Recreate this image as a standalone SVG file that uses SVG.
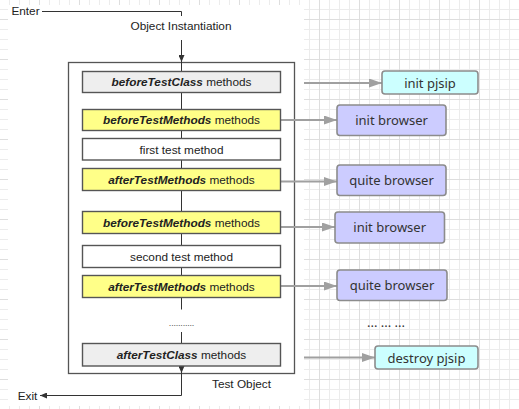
<svg xmlns="http://www.w3.org/2000/svg" width="519" height="409" viewBox="0 0 519 409">
<defs>
<pattern id="grid" x="0" y="0" width="40" height="40" patternUnits="userSpaceOnUse">
<path d="M9.5,0V40M19.5,0V40M29.5,0V40M0,9.5H40M0,29.5H40M0,39.5H40" stroke="#ececec" stroke-width="1" fill="none"/>
<path d="M39.5,0V40M0,19.5H40" stroke="#dedede" stroke-width="1" fill="none"/>
</pattern>
<marker id="ga" markerWidth="13" markerHeight="9" refX="13" refY="4.5" orient="auto" markerUnits="userSpaceOnUse">
<path d="M0,0L13,4.5L0,9z" fill="#a0a0a0"/>
</marker>
<marker id="da" markerWidth="7" markerHeight="6" refX="7" refY="3" orient="auto" markerUnits="userSpaceOnUse">
<path d="M0,0L7,3L0,6z" fill="#333"/>
</marker>
<style>
.box{stroke:#555;stroke-width:1.4}
.gray{fill:#eeeeee}
.yel{fill:#ffff88}
.wht{fill:#ffffff}
.t{font-family:"Liberation Sans",Arial,sans-serif;font-size:11.8px;fill:#222;text-anchor:middle}
.b{font-weight:bold;font-style:italic}
.rb{stroke:#8c8c8c;stroke-width:1.6}
.cy{fill:#ccffff}
.pu{fill:#ccccff}
.rt{font-family:"Noto Sans",sans-serif;font-size:13px;fill:#333;text-anchor:middle}
.gl{stroke:#a0a0a0;stroke-width:2;fill:none}
.dl{stroke:#333;stroke-width:1;fill:none}
</style>
</defs>
<rect width="519" height="409" fill="#ffffff"/>
<rect width="519" height="409" fill="url(#grid)"/>
<rect x="8" y="5" width="296" height="401" fill="#ffffff"/>

<g id="container">
<rect x="68.5" y="62.5" width="226" height="311" fill="none" stroke="#555" stroke-width="1.3"/>
<text class="t" x="241.5" y="388">Test Object</text>
</g>

<g id="connectors">
<path class="dl" d="M42,11.5H181.5V16"/>
<path class="dl" d="M181.5,40V62" marker-end="url(#da)"/>
<path class="dl" d="M181.5,62V71.5M181.5,92.5V109.5M181.5,130.5V138.5M181.5,160V168.5M181.5,190.5V211.5M181.5,233.5V245.5M181.5,267.5V275.5M181.5,297.5V309.5M181.5,332V343.5"/>
<path class="dl" d="M181.5,366V373" marker-end="url(#da)"/>
<path class="dl" d="M181.5,373V395.5H40" marker-end="url(#da)"/>
<path class="gl" d="M304,83H382" marker-end="url(#ga)"/>
<path class="gl" d="M280.5,120H337" marker-end="url(#ga)"/>
<path class="gl" d="M280.5,181.5H337" marker-end="url(#ga)"/>
<path class="gl" d="M280.5,227H335" marker-end="url(#ga)"/>
<path class="gl" d="M280.5,286H337" marker-end="url(#ga)"/>
<path class="gl" d="M304,357.5H375" marker-end="url(#ga)"/>
</g>

<g id="enter"><text class="t" x="25.5" y="15">Enter</text></g>
<g id="instantiation"><text class="t" x="181" y="30">Object Instantiation</text></g>
<g id="exit"><text class="t" x="27.5" y="399.5">Exit</text></g>

<g id="beforeTestClass">
<rect class="box gray" x="82.5" y="71.5" width="198" height="21"/>
<text class="t" x="181.5" y="86.2"><tspan class="b">beforeTestClass</tspan> methods</text>
</g>
<g id="beforeTestMethods1">
<rect class="box yel" x="82.5" y="109.5" width="198" height="21"/>
<text class="t" x="181.5" y="124.2"><tspan class="b">beforeTestMethods</tspan> methods</text>
</g>
<g id="firstTest">
<rect class="box wht" x="82.5" y="138.5" width="198" height="21.5"/>
<text class="t" x="181.5" y="153.5">first test method</text>
</g>
<g id="afterTestMethods1">
<rect class="box yel" x="82.5" y="168.5" width="198" height="22"/>
<text class="t" x="181.5" y="183.7"><tspan class="b">afterTestMethods</tspan> methods</text>
</g>
<g id="beforeTestMethods2">
<rect class="box yel" x="82.5" y="211.5" width="198" height="22"/>
<text class="t" x="181.5" y="226.7"><tspan class="b">beforeTestMethods</tspan> methods</text>
</g>
<g id="secondTest">
<rect class="box wht" x="82.5" y="245.5" width="198" height="22"/>
<text class="t" x="181.5" y="260.7">second test method</text>
</g>
<g id="afterTestMethods2">
<rect class="box yel" x="82.5" y="275.5" width="198" height="22"/>
<text class="t" x="181.5" y="290.7"><tspan class="b">afterTestMethods</tspan> methods</text>
</g>
<g id="dots1"><text x="181.5" y="326" font-family="Liberation Sans, sans-serif" font-size="9" fill="#555" text-anchor="middle" letter-spacing="-0.2">...........</text></g>
<g id="afterTestClass">
<rect class="box gray" x="82.5" y="343.5" width="198" height="22.5"/>
<text class="t" x="181.5" y="359"><tspan class="b">afterTestClass</tspan> methods</text>
</g>

<g id="initPjsip">
<rect class="rb cy" x="382" y="71" width="96" height="23" rx="3"/>
<text class="rt" x="430" y="87.5">init pjsip</text>
</g>
<g id="initBrowser1">
<rect class="rb pu" x="337" y="105" width="109" height="30.5" rx="3"/>
<text class="rt" x="391.5" y="125">init browser</text>
</g>
<g id="quiteBrowser1">
<rect class="rb pu" x="337" y="165" width="109" height="30.5" rx="3"/>
<text class="rt" x="391.5" y="185">quite browser</text>
</g>
<g id="initBrowser2">
<rect class="rb pu" x="335" y="212" width="109.5" height="31" rx="3"/>
<text class="rt" x="389.7" y="232">init browser</text>
</g>
<g id="quiteBrowser2">
<rect class="rb pu" x="337" y="270" width="110" height="30.5" rx="3"/>
<text class="rt" x="392" y="290">quite browser</text>
</g>
<g id="dots2"><text class="rt" x="386" y="327" font-size="12">... ... ...</text></g>
<g id="destroyPjsip">
<rect class="rb cy" x="375" y="346" width="103" height="23" rx="3"/>
<text class="rt" x="426.5" y="362.5">destroy pjsip</text>
</g>
</svg>
